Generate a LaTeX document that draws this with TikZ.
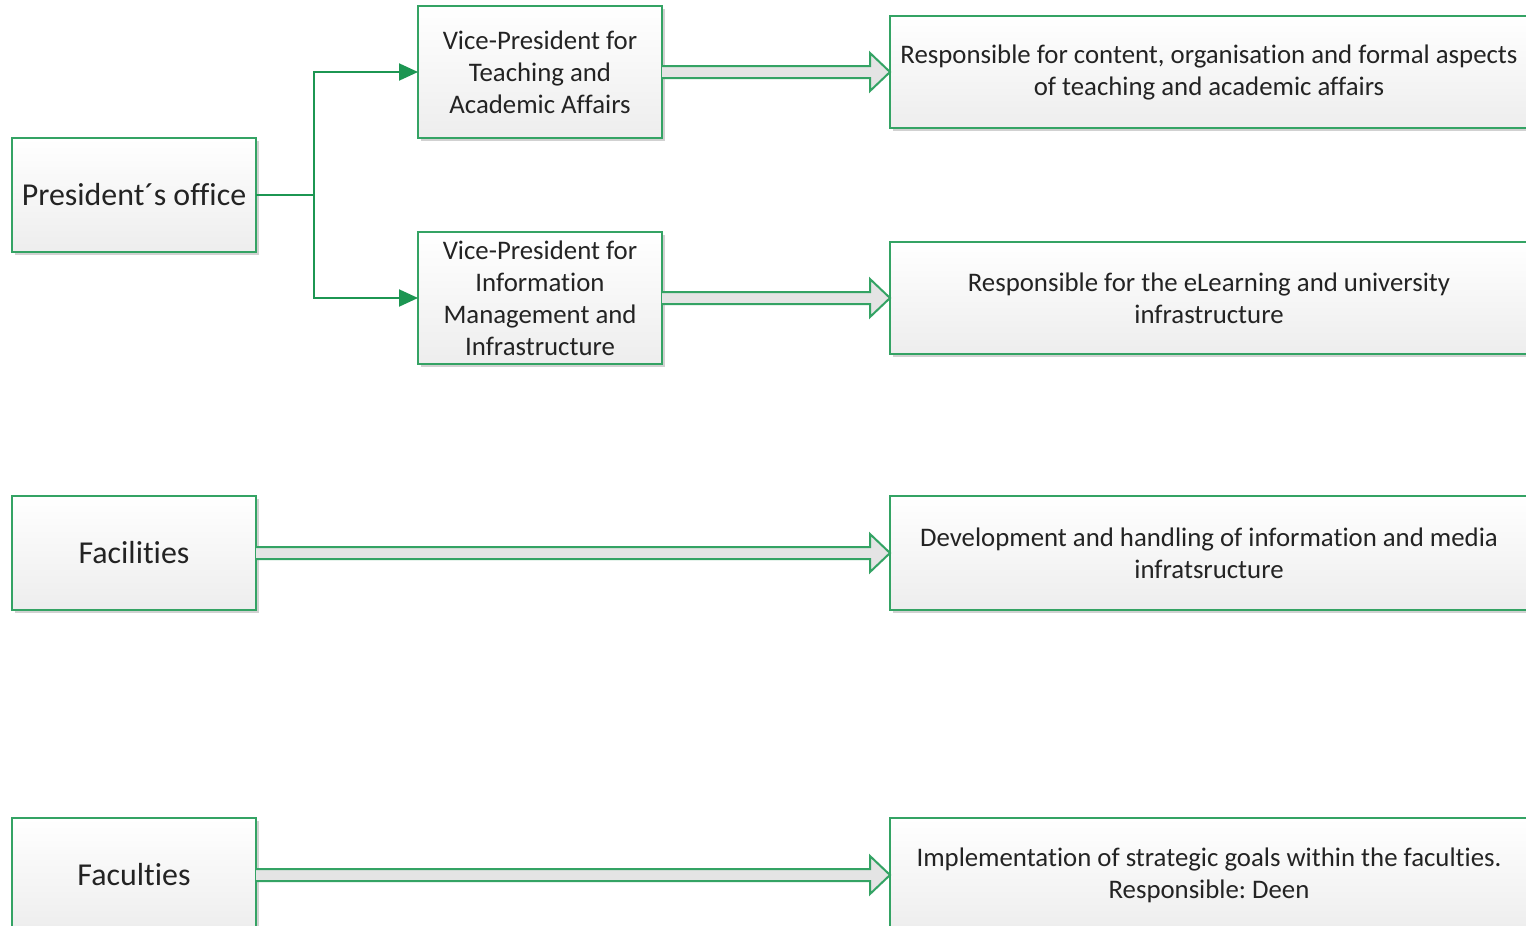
\documentclass[tikz,border=0pt]{standalone}
\usepackage{fontspec}
\setmainfont{Carlito}[Ligatures={NoCommon,NoContextual}]
\usetikzlibrary{arrows.meta,calc,shadows}
\definecolor{boxgreen}{RGB}{52,163,100}
\definecolor{linkgreen}{RGB}{28,150,82}
\definecolor{txt}{RGB}{35,35,35}
\definecolor{shaft}{RGB}{228,228,228}
\tikzset{
  box/.style={draw=boxgreen, line width=2.4pt, top color=white, bottom color=black!7,
    minimum width=244pt, text=txt, align=center, inner sep=0pt, outer sep=0pt,
    drop shadow={opacity=0.18, shadow xshift=2.5pt, shadow yshift=-2.5pt, fill=black}},
  bigtext/.style={font=\fontsize{31.9}{38}\selectfont},
  smalltext/.style={font=\fontsize{26.8}{32}\selectfont},
  wide/.style={minimum width=638pt},
  conn/.style={draw=linkgreen, line width=2pt, -{Triangle[length=19pt,width=17pt]}},
  barrow/.style={draw=boxgreen, line width=2pt, fill=shaft, line join=miter},
}
\newcommand{\blockarrow}[2]{%
  \draw[barrow] ($(#1.east)+(0,6)$) -- ($(#2.west)+(-20,6)$) -- ++(0,13)
    -- (#2.west) -- ++(-20,-19) -- ++(0,13) -- ($(#1.east)+(0,-6)$);}
\begin{document}
\begin{tikzpicture}[x=1pt,y=1pt]
\useasboundingbox (0,0) rectangle (1526,-926);
\clip (0,0) rectangle (1526,-926);
\fill[white] (0,0) rectangle (1526,-926);

% left column
\node[box,bigtext,minimum height=114pt] (pres) at (134,-195) {President´s office};
\node[box,bigtext,minimum height=114pt] (fac)  at (134,-553) {Facilities};
\node[box,bigtext,minimum height=114pt] (facu) at (134,-875) {Faculties};

% vice-presidents
\node[box,smalltext,minimum height=132pt] (vp1) at (540,-72) {Vice-President for\\Teaching and\\Academic Affairs};
\node[box,smalltext,minimum height=132pt] (vp2) at (540,-298) {Vice-President for\\Information\\Management and\\Infrastructure};

% responsibilities
\node[box,wide,smalltext,minimum height=112pt] (r1) at (1209,-72)
  {Responsible for content, organisation and formal aspects\\of teaching and academic affairs};
\node[box,wide,smalltext,minimum height=112pt] (r2) at (1209,-298)
  {Responsible for the eLearning and university\\infrastructure};
\node[box,wide,smalltext,minimum height=114pt] (r3) at (1209,-553)
  {Development and handling of information and media\\infratsructure};
\node[box,wide,smalltext,minimum height=114pt] (r4) at (1209,-875)
  {Implementation of strategic goals within the faculties.\\Responsible:~Deen};

% reporting lines
\coordinate (split) at ($(pres.east)+(58,0)$);
\draw[draw=linkgreen, line width=2pt] (pres.east) -- (split);
\draw[conn] (split) |- (vp1.west);
\draw[conn] (split) |- (vp2.west);

% block arrows
\blockarrow{vp1}{r1}
\blockarrow{vp2}{r2}
\blockarrow{fac}{r3}
\blockarrow{facu}{r4}
\end{tikzpicture}
\end{document}
